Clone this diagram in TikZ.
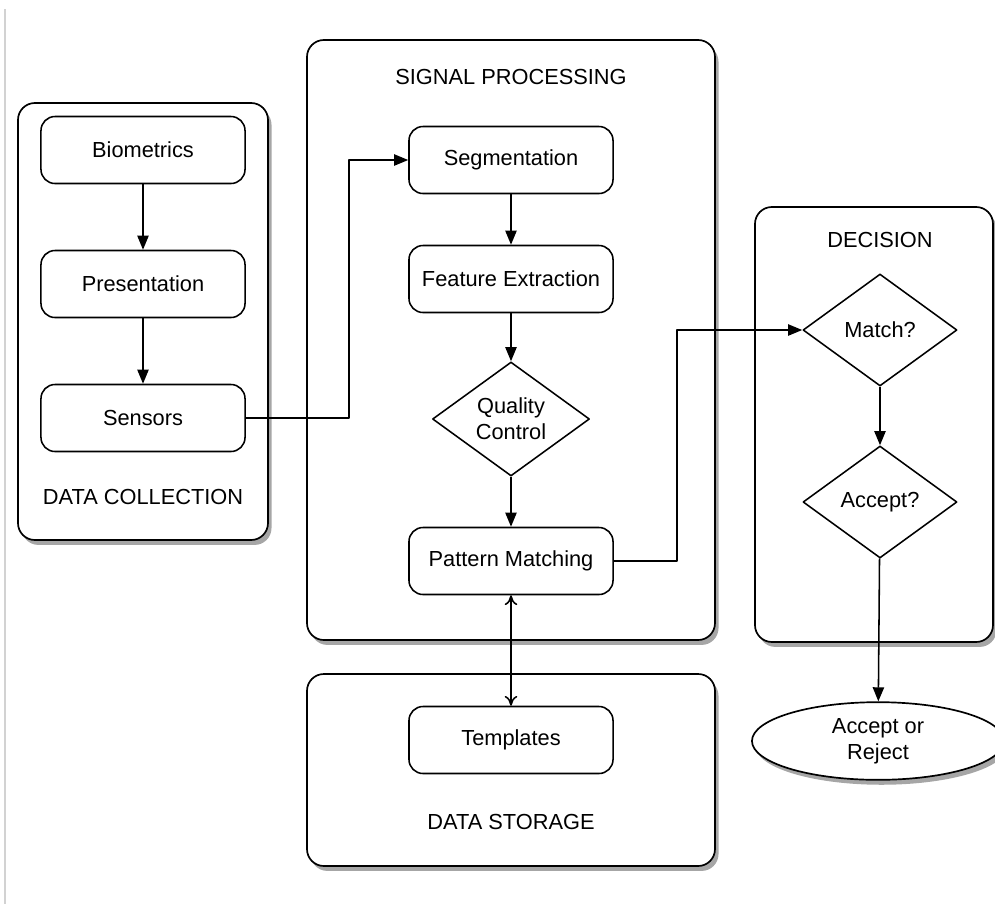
\documentclass[tikz,border=0pt]{standalone}
\usepackage{fontspec}
\setmainfont{Liberation Sans}
\usetikzlibrary{shapes.geometric,shadows,arrows.meta,positioning}
\begin{document}
\begin{tikzpicture}[x=0.025cm,y=-0.025cm,>={Triangle[length=10pt,width=8pt]}, font=\fontsize{15.5}{18.5}\selectfont, line join=round, line width=1.1pt]
	\tikzset{group/.style={draw, rounded corners=12pt, fill=white, line width=1.2pt, drop shadow={shadow xshift=2.5pt, shadow yshift=-3.5pt, opacity=0.7}},
		block/.style={draw, rounded corners=10pt, minimum width=5.1cm, minimum height=1.675cm, fill=white},
		test/.style={draw, diamond, aspect=1.38, inner sep=0pt, align=center, fill=white},
		title/.style={font=\fontsize{15.5}{18.5}\selectfont}}
	\useasboundingbox (0,0) rectangle (995,904);
	\draw[gray!35, line width=1pt] (5,9) -- (5,904);
	% groups
	\draw[group] (18,103) rectangle (268,540);
	\draw[group] (307,40) rectangle (715,640);
	\draw[group] (307,674) rectangle (715,866);
	\draw[group] (755,207) rectangle (993,642);
	\node[title] (collectlbl) at (143,497) {DATA COLLECTION};
	\node[title] (signallbl) at (511,77) {SIGNAL PROCESSING};
	\node[title] (storelbl) at (511,822) {DATA STORAGE};
	\node[title] (decidelbl) at (880,240) {DECISION};
	% blocks
	\node[block] (bio) at (143,150) {Biometrics};
	\node[block] (pres) at (143,284) {Presentation};
	\node[block] (sens) at (143,418) {Sensors};
	\node[block] (seg) at (511,160) {Segmentation};
	\node[block] (feat) at (511,279) {Feature Extraction};
	\node[test, minimum width=3.925cm, minimum height=2.85cm] (qc) at (511,419) {Quality\\Control};
	\node[block] (pm) at (511,561) {Pattern Matching};
	\node[block] (tmpl) at (511,740) {Templates};
	\node[test, minimum width=3.85cm, minimum height=2.8cm] (match) at (880,330) {Match?};
	\node[test, minimum width=3.85cm, minimum height=2.8cm] (acc) at (880,502) {Accept?};
	\node[draw, ellipse, minimum width=6.3cm, minimum height=1.8cm, align=center, fill=white, line width=1.2pt, drop shadow={shadow xshift=2.5pt, shadow yshift=-3.5pt, opacity=0.7}] (out) at (878,741) {Accept or\\Reject};
	% connectors
	\foreach \a/\b in {bio/pres, pres/sens, seg/feat, feat/qc, qc/pm, match/acc, acc/out}
	\draw[->] (\a) -- (\b);
	\draw[->] (sens.east) -- ++(103,0) |- (seg.west);
	\draw[->] (pm.east) -- ++(63,0) |- (match.west);
	\draw[{To[length=7pt,width=9pt]}-{To[length=7pt,width=9pt]}] (pm) -- (tmpl);
\end{tikzpicture}
\end{document}
